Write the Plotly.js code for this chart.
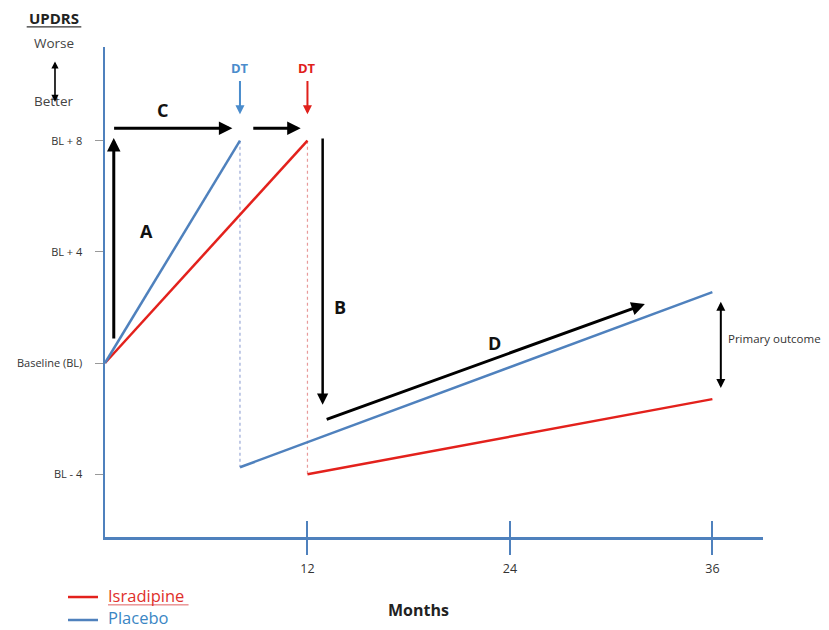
<!DOCTYPE html>
<html>
<head>
<meta charset="utf-8">
<script src="https://cdn.plot.ly/plotly-3.0.1.min.js"></script>
<style>html,body{margin:0;padding:0;background:#fff;}#chart{width:829px;height:630px;}</style>
</head>
<body>
<div id="chart"></div>
<script>
// ---- data ----
var seriesNames = ['Isradipine', 'Placebo'];
var placeboMonths = [0, 8, null, 8, 36];
var placeboValues = [0, 8, null, -3.75, 2.55];
var isradipineMonths = [0, 12, null, 12, 36];
var isradipineValues = [0, 8, null, -4, -1.3];
var placeboDtMonth = [8, 8];
var placeboDtValues = [8, -3.75];
var isradipineDtMonth = [12, 12];
var isradipineDtValues = [8, -4];
var xTickVals = [12, 24, 36];
var xTickText = ['12', '24', '36'];
var yTickVals = [-4, 0, 4, 8];
var yTickText = ['BL - 4', 'Baseline (BL)', 'BL + 4', 'BL + 8'];

var BLUE = '#4f81bd';
var RED = '#e3211c';
var FONT = 'Open Sans, Noto Sans, sans-serif';

var traces = [
  {x: placeboDtMonth, y: placeboDtValues, mode: 'lines', line: {color: '#9aa9d6', width: 1.2, dash: 'dot'}, hoverinfo: 'skip'},
  {x: isradipineDtMonth, y: isradipineDtValues, mode: 'lines', line: {color: '#e89a9a', width: 1.2, dash: 'dot'}, hoverinfo: 'skip'},
  {x: isradipineMonths, y: isradipineValues, mode: 'lines', connectgaps: false, line: {color: RED, width: 2.5}, name: seriesNames[0]},
  {x: placeboMonths, y: placeboValues, mode: 'lines', connectgaps: false, line: {color: BLUE, width: 2.5}, name: seriesNames[1]},
  {x: xTickVals, y: [0, 0, 0], xaxis: 'x2', mode: 'markers', marker: {opacity: 0}, hoverinfo: 'skip'}
];

function arrow(x, y, ax, ay, opts) {
  var a = {x: x, y: y, ax: ax, ay: ay, xref: 'x', yref: 'y', axref: 'x', ayref: 'y',
    showarrow: true, arrowhead: 2, arrowsize: 0.9, arrowwidth: 2.5, arrowcolor: '#000', text: ''};
  for (var k in (opts || {})) a[k] = opts[k];
  return a;
}
function label(x, y, text, size, color, opts) {
  var a = {x: x, y: y, xref: 'x', yref: 'y', text: text, showarrow: false,
    font: {family: FONT, size: size, color: color}};
  for (var k in (opts || {})) a[k] = opts[k];
  return a;
}
function paperText(x, y, text, size, color, anchor) {
  return {x: x, y: y, xref: 'paper', yref: 'paper', xanchor: anchor || 'center', yanchor: 'middle',
    text: text, showarrow: false, borderpad: 0, font: {family: FONT, size: size, color: color}};
}

var annotations = [
  // A
  arrow(0.52, 8.1, 0.52, 0.83, {arrowwidth: 3}),
  label(2.45, 4.75, '<b>A</b>', 18, '#111'),
  // C
  arrow(7.55, 8.45, 0.45, 8.45, {arrowwidth: 3}),
  arrow(11.6, 8.45, 8.7, 8.45, {arrowwidth: 3}),
  label(3.4, 9.1, '<b>C</b>', 18, '#111'),
  // B
  arrow(12.9, -1.5, 12.9, 8.13),
  label(13.95, 2.0, '<b>B</b>', 18, '#111'),
  // D
  arrow(32.0, 2.12, 13.05, -2.05, {arrowwidth: 3}),
  label(23.1, 0.72, '<b>D</b>', 18, '#111'),
  // Primary outcome
  arrow(36.5, 2.2, 36.5, -0.95, {arrowside: 'end+start', arrowwidth: 2}),
  label(36.8, 0.9, 'Primary outcome', 11.5, '#333', {xanchor: 'left'}),
  // DT markers
  label(8, 10.6, '<b>DT</b>', 13, '#4a8ccc'),
  arrow(8, 8.95, 8, 10.2, {arrowcolor: '#4a8ccc', arrowwidth: 2}),
  label(12, 10.6, '<b>DT</b>', 13, '#e0201b'),
  arrow(12, 8.95, 12, 10.2, {arrowcolor: '#e0201b', arrowwidth: 2}),
  // UPDRS header
  paperText(-0.0775, 1.059, '<b>UPDRS</b>', 15, '#222'),
  paperText(-0.0775, 1.008, 'Worse', 13.5, '#444'),
  paperText(-0.0775, 0.889, 'Better', 13.5, '#444'),
  {x: -0.0760, y: 0.888, xref: 'paper', yref: 'paper', ax: 0, ay: -42, axref: 'pixel', ayref: 'pixel',
   showarrow: true, arrowhead: 2, arrowside: 'end+start', arrowsize: 0.9, arrowwidth: 1.6, arrowcolor: '#000', text: ''},
  // Months
  paperText(0.4757, -0.149, '<b>Months</b>', 16, '#222'),
  // legend texts
  paperText(0.0030, -0.1184, seriesNames[0], 16.5, '#e0302b', 'left'),
  paperText(0.0030, -0.1653, seriesNames[1], 16.5, '#3a86c4', 'left')
];

var shapes = [
  // underline of UPDRS
  {type: 'line', xref: 'paper', yref: 'paper', x0: -0.119, x1: -0.036, y0: 1.041, y1: 1.041, line: {color: '#333', width: 1.2}},
  // legend swatches
  {type: 'line', xref: 'paper', yref: 'paper', x0: -0.0562, x1: -0.0106, y0: -0.1225, y1: -0.1225, line: {color: RED, width: 2.5}},
  {type: 'line', xref: 'paper', yref: 'paper', x0: -0.0562, x1: -0.0106, y0: -0.1694, y1: -0.1694, line: {color: BLUE, width: 2.5}},
  // underline of Isradipine legend label
  {type: 'line', xref: 'paper', yref: 'paper', x0: 0.0046, x1: 0.127, y0: -0.1385, y1: -0.1385, line: {color: '#e06060', width: 1}}
];

var layout = {
  width: 829, height: 630,
  margin: {l: 105, r: 66, t: 47, b: 93},
  paper_bgcolor: '#fff', plot_bgcolor: '#fff',
  font: {family: FONT, color: '#333'},
  showlegend: false,
  xaxis: {range: [0, 39], showgrid: false, zeroline: false, showline: true, linecolor: BLUE, linewidth: 2.5,
    tickvals: xTickVals, ticktext: xTickText, ticks: 'outside', ticklen: 15, tickwidth: 2, tickcolor: BLUE,
    tickfont: {family: FONT, size: 12.5, color: '#333'}, ticklabelstandoff: 3, fixedrange: true, automargin: false},
  xaxis2: {range: [0, 39], overlaying: 'x', anchor: 'y', side: 'bottom', showgrid: false, zeroline: false,
    showline: false, tickvals: xTickVals, showticklabels: false, ticks: 'inside', ticklen: 16, tickwidth: 2, tickcolor: BLUE, automargin: false},
  yaxis: {range: [-6.26, 11.37], showgrid: false, zeroline: false, showline: true, linecolor: BLUE, linewidth: 2.5,
    tickvals: yTickVals, ticktext: yTickText, ticks: 'outside', ticklen: 8, tickwidth: 1, tickcolor: '#999',
    tickfont: {family: FONT, size: 11, color: '#333'}, ticklabelstandoff: 10, fixedrange: true, automargin: false},
  annotations: annotations,
  shapes: shapes
};

Plotly.newPlot('chart', traces, layout, {displayModeBar: false, staticPlot: true});
</script>
</body>
</html>
